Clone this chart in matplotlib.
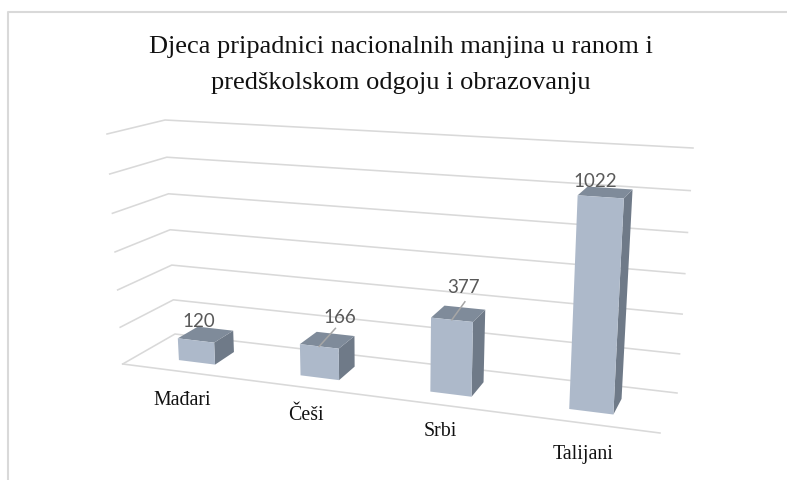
import matplotlib
matplotlib.use("Agg")
import matplotlib.pyplot as plt
from matplotlib.patches import Polygon

categories = ["Mađari", "Češi", "Srbi", "Talijani"]
values = [120, 166, 377, 1022]
grid_levels = [0, 200, 400, 600, 800, 1000, 1200]
title_lines = ["Djeca pripadnici nacionalnih manjina u ranom i", "predškolskom odgoju i obrazovanju"]

# pixel corners of the 3d box, (width, depth, height)
corners = {
    (0, 0, 0): (122.7, 364), (1, 0, 0): (660, 433),
    (0, 1, 0): (175, 334), (1, 1, 0): (677, 393),
    (0, 0, 1): (107, 134), (1, 0, 1): (675, 168),
    (0, 1, 1): (165, 120), (1, 1, 1): (693, 148),
}

front_col = "#adb9ca"
top_col = "#7f8b9a"
side_col = "#6f7a88"
grid_col = "#d9d9d9"
label_col = "#595959"


def persp(t, k):
    return k*t/(1+(k-1)*t)


def project(s, d, v):
    u = persp(s, 0.875)
    h = persp(v/grid_levels[-1], 0.95)
    x, y = 0, 0
    for cu in (0, 1):
        for cd in (0, 1):
            for ch in (0, 1):
                w = (u if cu else 1-u)*(d if cd else 1-d)*(h if ch else 1-h)
                x += w*corners[(cu, cd, ch)][0]
                y += w*corners[(cu, cd, ch)][1]
    return x, y


fig = plt.figure(figsize=(7.87, 4.8), dpi=100)
ax = fig.add_axes([0, 0, 1, 1])
ax.set_xlim(0, 787)
ax.set_ylim(480, 0)
ax.axis("off")

# chart frame
ax.plot([8, 8, 787], [480, 12, 12], color=grid_col, lw=1.5, zorder=1)

for i, level in enumerate(grid_levels):
    pts = [project(0, 0, level), project(0, 1, level), project(1, 1, level)]
    ax.plot([p[0] for p in pts], [p[1] for p in pts], color=grid_col, lw=1.15, zorder=2)
a, b = project(0, 0, 0), project(1, 0, 0)
ax.plot([a[0], b[0]], [a[1], b[1]], color=grid_col, lw=1.15, zorder=2)

bar_w = 0.076
d0, d1 = 0.3, 0.7
label_off = [(-7, -13), (12, -23), (5, -26), (-10, -11)]
cat_off = [(0, 29), (-2, 28), (-1, 27), (-2, 31)]
for i, (cat, val) in enumerate(zip(categories, values)):
    c = (i+0.5)/len(categories)
    s0, s1 = c-bar_w/2, c+bar_w/2
    ax.add_patch(Polygon([project(s1, d0, 0), project(s1, d1, 0), project(s1, d1, val), project(s1, d0, val)],
                         fc=side_col, ec="none", zorder=3+i))
    ax.add_patch(Polygon([project(s0, d0, val), project(s1, d0, val), project(s1, d1, val), project(s0, d1, val)],
                         fc=top_col, ec="none", zorder=3+i))
    ax.add_patch(Polygon([project(s0, d0, 0), project(s1, d0, 0), project(s1, d0, val), project(s0, d0, val)],
                         fc=front_col, ec="none", zorder=3+i))
    tx, ty = project(c, 0.5, val)
    ax.text(tx+label_off[i][0], ty+label_off[i][1], str(val), ha="center", va="center",
            family="Lato", fontsize=13.5, color=label_col, zorder=10)
    fx, fy = project(c, 0, 0)
    ax.text(fx+cat_off[i][0], fy+cat_off[i][1], cat, ha="center", va="center",
            family="Liberation Serif", fontsize=14.3, color="#111111", zorder=10)

# leader lines for the two labels moved away from their bars
for i in (1, 2):
    c = (i+0.5)/len(categories)
    p0 = project(c, 0.3, values[i])
    p1 = project(c, 0.7, values[i]+30)
    ax.plot([p0[0], p1[0]], [p0[1], p1[1]], color="#a6a6a6", lw=1.1, zorder=11)

ax.text(401, 47, title_lines[0], ha="center", va="center", family="Liberation Serif", fontsize=19, color="#111111")
ax.text(401, 83, title_lines[1], ha="center", va="center", family="Liberation Serif", fontsize=19, color="#111111")

fig.savefig("out.png", dpi=100)
